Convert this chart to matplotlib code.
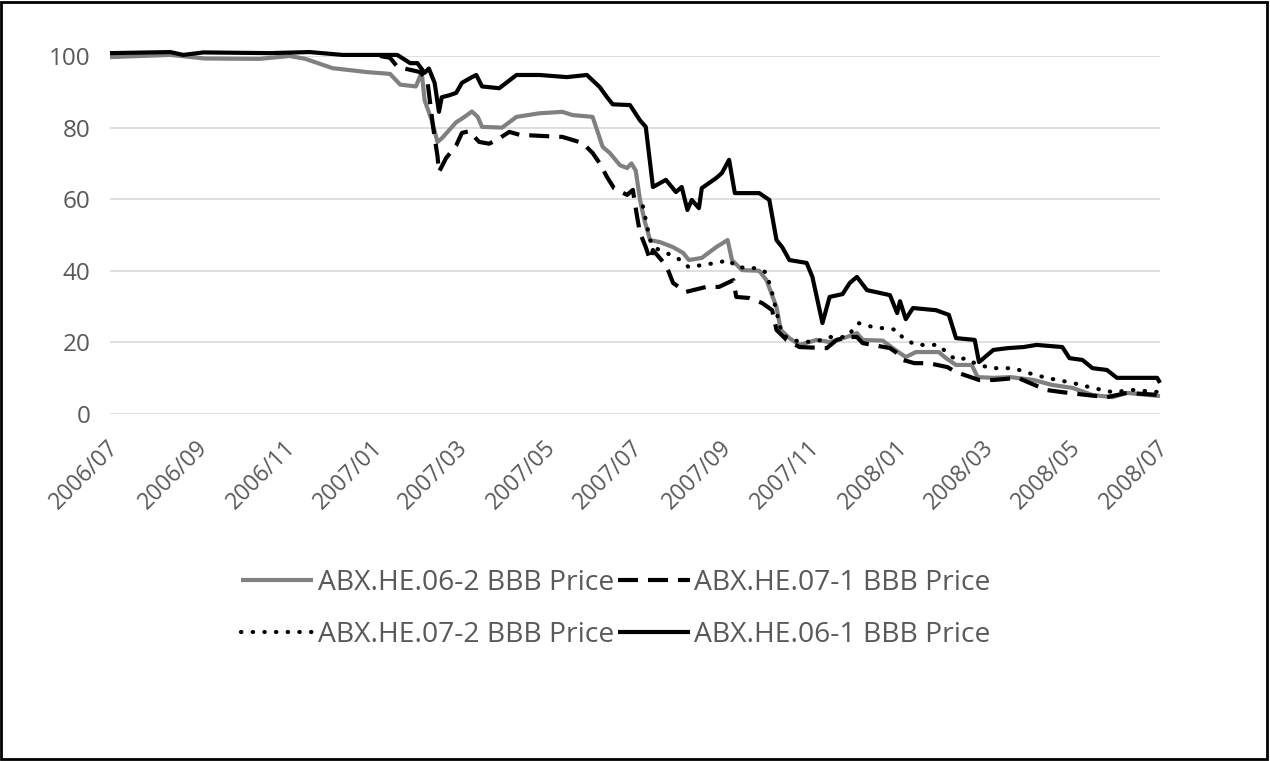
import matplotlib
matplotlib.use("Agg")
import matplotlib.pyplot as plt
import matplotlib.transforms as mtransforms
from matplotlib.patches import Rectangle
import pandas as pd

plt.rcParams['font.family'] = ['Open Sans', 'DejaVu Sans']

# ABX.HE.06-2 BBB
dates_062 = ["2006-07-01", "2006-08-12", "2006-09-05", "2006-10-13", "2006-11-03", "2006-11-14",
             "2006-12-03", "2006-12-27", "2007-01-12", "2007-01-19", "2007-01-30", "2007-02-03",
             "2007-02-05", "2007-02-10", "2007-02-14", "2007-02-17", "2007-02-27", "2007-03-03",
             "2007-03-10", "2007-03-14", "2007-03-17", "2007-03-31", "2007-04-10", "2007-04-26",
             "2007-05-12", "2007-05-19", "2007-06-02", "2007-06-09", "2007-06-14", "2007-06-21",
             "2007-06-26", "2007-06-29", "2007-07-02", "2007-07-05", "2007-07-08", "2007-07-12",
             "2007-07-19", "2007-07-28", "2007-08-04", "2007-08-08", "2007-08-17", "2007-08-27",
             "2007-09-04", "2007-09-07", "2007-09-14", "2007-09-26", "2007-10-01", "2007-10-08",
             "2007-10-11", "2007-10-17", "2007-10-24", "2007-11-05", "2007-11-14", "2007-11-26",
             "2007-12-03", "2007-12-07", "2007-12-21", "2007-12-28", "2008-01-06", "2008-01-13",
             "2008-01-29", "2008-02-03", "2008-02-10", "2008-02-21", "2008-02-25", "2008-03-07",
             "2008-03-19", "2008-04-04", "2008-04-17", "2008-05-01", "2008-05-15", "2008-05-29",
             "2008-06-08", "2008-07-01"]
price_062 = [99.7, 100.3, 99.3, 99.2, 100.0, 99.2,
             96.6, 95.5, 95.0, 92.0, 91.5, 95.5,
             87.7, 82.0, 76.0, 77.0, 81.5, 82.5,
             84.5, 83.0, 80.2, 80.0, 83.0, 84.0,
             84.4, 83.5, 83.0, 74.6, 72.9, 69.5,
             68.7, 70.0, 68.0, 59.8, 54.2, 48.6,
             48.0, 46.6, 45.0, 43.0, 43.6, 46.6,
             48.6, 43.0, 40.2, 40.0, 37.4, 29.9,
             23.5, 21.2, 19.3, 20.7, 20.1, 21.5,
             22.6, 20.7, 20.5, 18.4, 15.9, 17.3,
             17.3, 15.6, 13.7, 13.7, 10.3, 10.1,
             10.3, 9.5, 8.1, 7.3, 5.3, 4.7,
             5.9, 5.0]

# ABX.HE.07-1 BBB
dates_071 = ["2007-01-05", "2007-01-12", "2007-01-17", "2007-01-22", "2007-02-02", "2007-02-07",
             "2007-02-11", "2007-02-14", "2007-02-15", "2007-02-20", "2007-02-27", "2007-03-03",
             "2007-03-08", "2007-03-15", "2007-03-22", "2007-03-29", "2007-04-05", "2007-04-12",
             "2007-04-26", "2007-05-12", "2007-05-26", "2007-06-02", "2007-06-07", "2007-06-12",
             "2007-06-17", "2007-06-26", "2007-06-30", "2007-07-03", "2007-07-05", "2007-07-09",
             "2007-07-12", "2007-07-14", "2007-07-22", "2007-07-25", "2007-07-28", "2007-08-06",
             "2007-08-20", "2007-08-29", "2007-09-08", "2007-09-10", "2007-09-19", "2007-09-28",
             "2007-10-05", "2007-10-08", "2007-10-15", "2007-10-24", "2007-11-12", "2007-11-19",
             "2007-11-28", "2007-12-03", "2007-12-07", "2007-12-26", "2007-12-31", "2008-01-04",
             "2008-01-12", "2008-01-22", "2008-02-04", "2008-02-10", "2008-02-26", "2008-03-07",
             "2008-03-24", "2008-03-31", "2008-04-13", "2008-04-24", "2008-05-11", "2008-05-25",
             "2008-06-08", "2008-07-01"]
price_071 = [100.0, 99.5, 97.0, 96.5, 95.5, 93.0,
             80.0, 72.0, 67.6, 71.5, 75.0, 78.5,
             79.0, 76.0, 75.5, 77.0, 78.8, 78.0,
             77.7, 77.4, 75.7, 72.9, 70.0, 66.2,
             63.0, 61.2, 62.6, 55.0, 50.6, 46.6,
             43.0, 45.8, 42.0, 39.7, 36.6, 34.1,
             35.5, 35.5, 37.4, 32.7, 32.4, 31.0,
             29.0, 23.5, 20.7, 18.7, 18.4, 20.7,
             21.5, 21.5, 19.8, 18.4, 17.0, 15.1,
             14.2, 14.2, 13.1, 11.7, 9.5, 9.5,
             10.1, 8.9, 6.7, 6.1, 5.3, 4.7,
             5.9, 5.3]

# ABX.HE.07-2 BBB
dates_072 = ["2007-07-07", "2007-07-12", "2007-07-15", "2007-07-23", "2007-07-30", "2007-08-08",
             "2007-08-17", "2007-08-27", "2007-09-05", "2007-09-10", "2007-09-21", "2007-09-27",
             "2007-10-01", "2007-10-05", "2007-10-08", "2007-10-12", "2007-10-19", "2007-10-26",
             "2007-11-05", "2007-11-14", "2007-11-26", "2007-12-04", "2007-12-14", "2007-12-31",
             "2008-01-04", "2008-01-13", "2008-01-29", "2008-02-03", "2008-02-10", "2008-02-17",
             "2008-02-23", "2008-03-05", "2008-03-21", "2008-03-31", "2008-04-13", "2008-05-01",
             "2008-05-15", "2008-05-29", "2008-06-12", "2008-07-01"]
price_072 = [58.0, 48.6, 46.5, 45.0, 43.9, 41.0,
             41.6, 42.2, 43.0, 41.0, 40.8, 40.5,
             39.4, 33.8, 28.5, 22.1, 20.7, 20.1,
             20.3, 21.5, 21.5, 25.4, 24.3, 23.5,
             21.2, 19.3, 19.3, 17.3, 15.1, 15.6,
             14.2, 12.8, 12.8, 11.5, 10.1, 8.7,
             7.3, 6.1, 6.7, 6.1]

# ABX.HE.06-1 BBB
dates_061 = ["2006-07-01", "2006-08-12", "2006-08-21", "2006-09-04", "2006-10-20", "2006-11-17",
             "2006-12-10", "2007-01-17", "2007-01-26", "2007-01-31", "2007-02-05", "2007-02-08",
             "2007-02-12", "2007-02-15", "2007-02-17", "2007-02-22", "2007-02-27", "2007-03-03",
             "2007-03-10", "2007-03-13", "2007-03-17", "2007-03-29", "2007-04-10", "2007-04-26",
             "2007-05-15", "2007-05-29", "2007-06-07", "2007-06-12", "2007-06-16", "2007-06-28",
             "2007-07-05", "2007-07-09", "2007-07-14", "2007-07-23", "2007-07-30", "2007-08-03",
             "2007-08-07", "2007-08-10", "2007-08-15", "2007-08-17", "2007-08-27", "2007-08-31",
             "2007-09-05", "2007-09-09", "2007-09-26", "2007-10-03", "2007-10-08", "2007-10-12",
             "2007-10-17", "2007-10-29", "2007-11-02", "2007-11-09", "2007-11-14", "2007-11-23",
             "2007-11-28", "2007-12-03", "2007-12-10", "2007-12-26", "2007-12-31", "2008-01-02",
             "2008-01-06", "2008-01-11", "2008-01-27", "2008-02-05", "2008-02-10", "2008-02-23",
             "2008-02-26", "2008-03-07", "2008-03-17", "2008-03-28", "2008-04-06", "2008-04-24",
             "2008-04-29", "2008-05-08", "2008-05-15", "2008-05-25", "2008-06-01", "2008-06-29",
             "2008-07-01"]
price_061 = [100.8, 101.1, 100.3, 101.0, 100.8, 101.1,
             100.3, 100.3, 98.0, 98.0, 95.3, 96.5,
             92.5, 84.4, 88.5, 89.0, 89.7, 92.5,
             94.1, 94.7, 91.5, 91.0, 94.7, 94.7,
             94.1, 94.7, 91.3, 88.5, 86.5, 86.3,
             82.0, 80.2, 63.4, 65.4, 62.0, 63.4,
             57.0, 59.8, 57.5, 63.1, 65.9, 67.3,
             71.0, 61.7, 61.7, 59.8, 48.6, 46.6,
             43.0, 42.2, 38.3, 25.4, 32.7, 33.5,
             36.6, 38.3, 34.6, 33.2, 28.2, 31.5,
             26.5, 29.6, 29.0, 27.7, 21.2, 20.7,
             14.5, 17.9, 18.4, 18.7, 19.3, 18.7,
             15.6, 15.1, 12.8, 12.3, 10.1, 10.1,
             8.7]

series_names = ["ABX.HE.06-2 BBB Price", "ABX.HE.07-1 BBB Price",
                "ABX.HE.07-2 BBB Price", "ABX.HE.06-1 BBB Price"]
y_ticks = [0, 20, 40, 60, 80, 100]
x_tick_dates = ["2006-07-01", "2006-09-01", "2006-11-01", "2007-01-01", "2007-03-01",
                "2007-05-01", "2007-07-01", "2007-09-01", "2007-11-01", "2008-01-01",
                "2008-03-01", "2008-05-01", "2008-07-01"]
x_tick_labels = ["2006/07", "2006/09", "2006/11", "2007/01", "2007/03", "2007/05",
                 "2007/07", "2007/09", "2007/11", "2008/01", "2008/03", "2008/05",
                 "2008/07"]
x_start, x_end = "2006-07-01", "2008-07-01"

W, H = 1270, 761
fig = plt.figure(figsize=(W / 100, H / 100), dpi=100)
fig.patch.set_facecolor("white")

left, right = 110 / W, 1160 / W
bottom, top = 1 - 414 / H, 1 - 56 / H
ax = fig.add_axes([left, bottom, right - left, top - bottom])

TXT = "#595959"
lw = 3.0
styles = [
    dict(color="#808080", linestyle="-", solid_capstyle="butt"),
    dict(color="black", linestyle=(0, (4.8, 2.4)), dash_capstyle="butt"),
    dict(color="black", linestyle=(0, (0.1, 2.7)), dash_capstyle="round"),
    dict(color="black", linestyle="-", solid_capstyle="butt"),
]
all_series = [(dates_062, price_062), (dates_071, price_071),
              (dates_072, price_072), (dates_061, price_061)]

handles = []
for (d, p), name, st in zip(all_series, series_names, styles):
    h, = ax.plot(pd.to_datetime(d), p, lw=lw, label=name, clip_on=False,
                 solid_joinstyle="round", **st)
    handles.append(h)

ax.set_xlim(pd.Timestamp(x_start), pd.Timestamp(x_end))
ax.set_ylim(0, 100)
ax.set_yticks(y_ticks)
ax.yaxis.grid(True, color="#d9d9d9", lw=1.2)
ax.set_axisbelow(True)
for s in ax.spines.values():
    s.set_visible(False)
ax.tick_params(length=0, labelcolor=TXT)
ax.tick_params(axis="y", labelsize=17.5, pad=14)

ax.set_xticks(pd.to_datetime(x_tick_dates))
ax.set_xticklabels(x_tick_labels, fontsize=16.5)
ax.tick_params(axis="x", pad=22)
shift = mtransforms.ScaledTranslation(5 / 100, 0, fig.dpi_scale_trans)
for lab in ax.get_xticklabels():
    lab.set_rotation(45)
    lab.set_ha("right")
    lab.set_va("center")
    lab.set_rotation_mode("anchor")
    lab.set_transform(lab.get_transform() + shift)

order = [0, 2, 1, 3]
leg = fig.legend([handles[i] for i in order], [series_names[i] for i in order],
                 loc="center", bbox_to_anchor=(616 / W, 1 - 609 / H), ncol=2,
                 frameon=False, fontsize=20.3, handlelength=2.55, handletextpad=0.15,
                 columnspacing=0.15, labelspacing=0.85)
for t in leg.get_texts():
    t.set_color(TXT)

fig.add_artist(Rectangle((0.001, 0.002), 0.997, 0.996, transform=fig.transFigure,
                         fill=False, edgecolor="black", lw=2))

fig.savefig("out.png", dpi=100)
